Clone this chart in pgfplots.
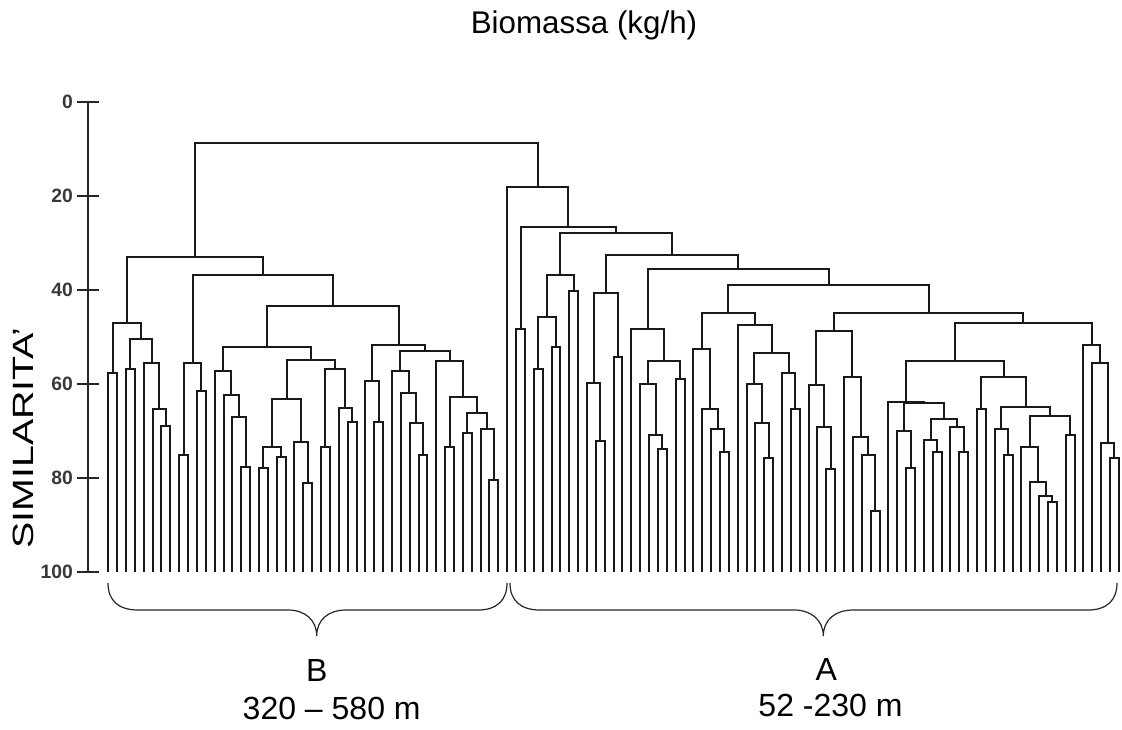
\documentclass[border=0pt]{standalone}
\usepackage{pgfplots}
\pgfplotsset{compat=1.18}
\usepackage{fontspec}
\usepackage{graphicx}
\setmainfont{Liberation Sans}
\begin{document}
\begin{tikzpicture}
\begin{axis}[
  at={(66pt,-429pt)}, anchor=south west,
  scale only axis, width=775.5pt, height=352.5pt,
  xmin=-1.29, xmax=115.35, ymin=0, ymax=100, y dir=reverse,
  axis x line=none, axis y line*=left,
  ytick={0,20,...,100},
  tick align=center, major tick length=15.75pt,
  axis line style={line width=1.4pt, black!85},
  every tick/.style={line width=1.4pt, black!85},
  /pgf/number format/assume math mode=true,
  yticklabel style={font=\fontsize{14.5}{16}\selectfont\bfseries, text=black!78},
  unbounded coords=jump,
  clip=false,
]
\addplot[black!90, line width=1.5pt, line join=miter] table {
x y
1 100
1 57.7
2 57.7
2 100
nan nan
3 100
3 56.9
4 56.9
4 100
nan nan
7 100
7 68.9
8 68.9
8 100
nan nan
6 100
6 65.3
7.5 65.3
7.5 68.9
nan nan
5 100
5 55.5
6.75 55.5
6.75 65.3
nan nan
3.5 56.9
3.5 50.4
5.875 50.4
5.875 55.5
nan nan
1.5 57.7
1.5 47.1
4.6875 47.1
4.6875 50.4
nan nan
9 100
9 75.1
10 75.1
10 100
nan nan
11 100
11 61.5
12 61.5
12 100
nan nan
9.5 75.1
9.5 55.5
11.5 55.5
11.5 61.5
nan nan
16 100
16 77.7
17 77.7
17 100
nan nan
15 100
15 67.1
16.5 67.1
16.5 77.7
nan nan
14 100
14 62.4
15.75 62.4
15.75 67.1
nan nan
13 100
13 57.2
14.875 57.2
14.875 62.4
nan nan
18 100
18 77.9
19 77.9
19 100
nan nan
20 100
20 75.6
21 75.6
21 100
nan nan
18.5 77.9
18.5 73.3
20.5 73.3
20.5 75.6
nan nan
23 100
23 81.1
24 81.1
24 100
nan nan
22 100
22 72.3
23.5 72.3
23.5 81.1
nan nan
19.5 73.3
19.5 63.2
22.75 63.2
22.75 72.3
nan nan
25 100
25 73.5
26 73.5
26 100
nan nan
28 100
28 68.0
29 68.0
29 100
nan nan
27 100
27 65.0
28.5 65.0
28.5 68.0
nan nan
25.5 73.5
25.5 56.9
27.75 56.9
27.75 65.0
nan nan
21.125 63.2
21.125 54.8
26.625 54.8
26.625 56.9
nan nan
13.9375 57.2
13.9375 52.2
23.875 52.2
23.875 54.8
nan nan
31 100
31 68.0
32 68.0
32 100
nan nan
30 100
30 59.4
31.5 59.4
31.5 68.0
nan nan
36 100
36 75.1
37 75.1
37 100
nan nan
35 100
35 68.4
36.5 68.4
36.5 75.1
nan nan
34 100
34 62.0
35.75 62.0
35.75 68.4
nan nan
33 100
33 57.2
34.875 57.2
34.875 62.0
nan nan
39 100
39 73.5
40 73.5
40 100
nan nan
41 100
41 70.5
42 70.5
42 100
nan nan
44 100
44 80.4
45 80.4
45 100
nan nan
43 100
43 69.6
44.5 69.6
44.5 80.4
nan nan
41.5 70.5
41.5 66.2
43.75 66.2
43.75 69.6
nan nan
39.5 73.5
39.5 62.8
42.625 62.8
42.625 66.2
nan nan
38 100
38 55.1
41.0625 55.1
41.0625 62.8
nan nan
33.9375 57.2
33.9375 53.0
39.531 53.0
39.531 55.1
nan nan
30.75 59.4
30.75 51.7
36.734 51.7
36.734 53.0
nan nan
18.906 52.2
18.906 43.5
33.742 43.5
33.742 51.7
nan nan
10.5 55.5
10.5 36.8
26.324 36.8
26.324 43.5
nan nan
3.094 47.1
3.094 33.0
18.412 33.0
18.412 36.8
nan nan
47 100
47 48.3
48 48.3
48 100
nan nan
49 100
49 56.8
50 56.8
50 100
nan nan
51 100
51 52.2
52 52.2
52 100
nan nan
49.5 56.8
49.5 45.7
51.5 45.7
51.5 52.2
nan nan
53 100
53 40.2
54 40.2
54 100
nan nan
50.5 45.7
50.5 36.8
53.5 36.8
53.5 40.2
nan nan
56 100
56 72.1
57 72.1
57 100
nan nan
55 100
55 59.7
56.5 59.7
56.5 72.1
nan nan
58 100
58 54.3
59 54.3
59 100
nan nan
55.75 59.7
55.75 40.7
58.5 40.7
58.5 54.3
nan nan
63 100
63 73.9
64 73.9
64 100
nan nan
62 100
62 70.9
63.5 70.9
63.5 73.9
nan nan
61 100
61 59.9
62.75 59.9
62.75 70.9
nan nan
65 100
65 59.0
66 59.0
66 100
nan nan
61.875 59.9
61.875 55.1
65.5 55.1
65.5 59.0
nan nan
60 100
60 48.3
63.6875 48.3
63.6875 55.1
nan nan
70 100
70 74.4
71 74.4
71 100
nan nan
69 100
69 69.6
70.5 69.6
70.5 74.4
nan nan
68 100
68 65.4
69.75 65.4
69.75 69.6
nan nan
67 100
67 52.6
68.875 52.6
68.875 65.4
nan nan
75 100
75 75.7
76 75.7
76 100
nan nan
74 100
74 68.4
75.5 68.4
75.5 75.7
nan nan
73 100
73 59.9
74.75 59.9
74.75 68.4
nan nan
78 100
78 65.4
79 65.4
79 100
nan nan
77 100
77 57.7
78.5 57.7
78.5 65.4
nan nan
73.875 59.9
73.875 53.3
77.75 53.3
77.75 57.7
nan nan
72 100
72 47.4
75.8125 47.4
75.8125 53.3
nan nan
67.9375 52.6
67.9375 44.8
73.906 44.8
73.906 47.4
nan nan
82 100
82 78.1
83 78.1
83 100
nan nan
81 100
81 69.1
82.5 69.1
82.5 78.1
nan nan
80 100
80 60.2
81.75 60.2
81.75 69.1
nan nan
87 100
87 87.0
88 87.0
88 100
nan nan
86 100
86 75.1
87.5 75.1
87.5 87.0
nan nan
85 100
85 71.3
86.75 71.3
86.75 75.1
nan nan
84 100
84 58.6
85.875 58.6
85.875 71.3
nan nan
80.875 60.2
80.875 48.7
84.9375 48.7
84.9375 58.6
nan nan
91 100
91 77.9
92 77.9
92 100
nan nan
90 100
90 70.1
91.5 70.1
91.5 77.9
nan nan
94 100
94 74.4
95 74.4
95 100
nan nan
93 100
93 71.9
94.5 71.9
94.5 74.4
nan nan
97 100
97 74.5
98 74.5
98 100
nan nan
96 100
96 69.2
97.5 69.2
97.5 74.5
nan nan
93.75 71.9
93.75 67.5
96.75 67.5
96.75 69.2
nan nan
90.75 70.1
90.75 64.1
95.25 64.1
95.25 67.5
nan nan
89 100
89 63.8
93 63.8
93 64.1
nan nan
99 100
99 65.3
100 65.3
100 100
nan nan
102 100
102 75.2
103 75.2
103 100
nan nan
101 100
101 69.6
102.5 69.6
102.5 75.2
nan nan
107 100
107 85.0
108 85.0
108 100
nan nan
106 100
106 83.8
107.5 83.8
107.5 85.0
nan nan
105 100
105 80.8
106.75 80.8
106.75 83.8
nan nan
104 100
104 73.5
105.875 73.5
105.875 80.8
nan nan
109 100
109 70.9
110 70.9
110 100
nan nan
104.9375 73.5
104.9375 66.9
109.5 66.9
109.5 70.9
nan nan
101.75 69.6
101.75 64.8
107.219 64.8
107.219 66.9
nan nan
99.5 65.3
99.5 58.6
104.484 58.6
104.484 64.8
nan nan
91 63.8
91 55.1
101.992 55.1
101.992 58.6
nan nan
114 100
114 75.8
115 75.8
115 100
nan nan
113 100
113 72.6
114.5 72.6
114.5 75.8
nan nan
112 100
112 55.6
113.75 55.6
113.75 72.6
nan nan
111 100
111 51.7
112.875 51.7
112.875 55.6
nan nan
96.496 55.1
96.496 47.0
111.9375 47.0
111.9375 51.7
nan nan
82.906 48.7
82.906 44.8
104.217 44.8
104.217 47.0
nan nan
70.922 44.8
70.922 38.9
93.561 38.9
93.561 44.8
nan nan
61.844 48.3
61.844 35.5
82.242 35.5
82.242 38.9
nan nan
57.125 40.7
57.125 32.6
72.043 32.6
72.043 35.5
nan nan
52.0 36.8
52.0 27.8
64.584 27.8
64.584 32.6
nan nan
47.5 48.3
47.5 26.5
58.292 26.5
58.292 27.8
nan nan
46 100
46 18.0
52.896 18.0
52.896 26.5
nan nan
10.753 33.0
10.753 8.7
49.448 8.7
49.448 18.0
};
\end{axis}
\begin{scope}[x=0.75pt,y=-0.75pt]
  \node[anchor=base, font=\fontsize{23.5}{28}\selectfont] at (584,33.5) {Biomassa (kg/h)};
  \node[rotate=90, anchor=base, font=\fontsize{22}{26}\selectfont] at (33.3,438) {\scalebox{1.34}[1]{SIMILARITA’}};
  \draw[line width=0.9pt, black!85] (108,583) .. controls (108,600) and (118,610) .. (138,610) -- (288,610) .. controls (305,610) and (316.7,620) .. (316.7,636) .. controls (316.7,620) and (328,610) .. (346,610) -- (478,610) .. controls (497,610) and (507,600) .. (507,583);
  \draw[line width=0.9pt, black!85] (510,583) .. controls (510,600) and (520,610) .. (540,610) -- (794,610) .. controls (811,610) and (823.3,620) .. (823.3,636) .. controls (823.3,620) and (835,610) .. (853,610) -- (1088,610) .. controls (1107,610) and (1117,600) .. (1117,583);
  \node[anchor=base, font=\fontsize{24}{28}\selectfont] at (316.7,681.7) {B};
  \node[anchor=base, font=\fontsize{24}{28}\selectfont] at (331.7,719.3) {320 – 580 m};
  \node[anchor=base, font=\fontsize{24}{28}\selectfont] at (826.3,680) {A};
  \node[anchor=base, font=\fontsize{24}{28}\selectfont] at (830.5,716.7) {52 -230 m};
  \pgfresetboundingbox
  \path[use as bounding box] (0,0) rectangle (1122,729);
\end{scope}
\end{tikzpicture}
\end{document}
